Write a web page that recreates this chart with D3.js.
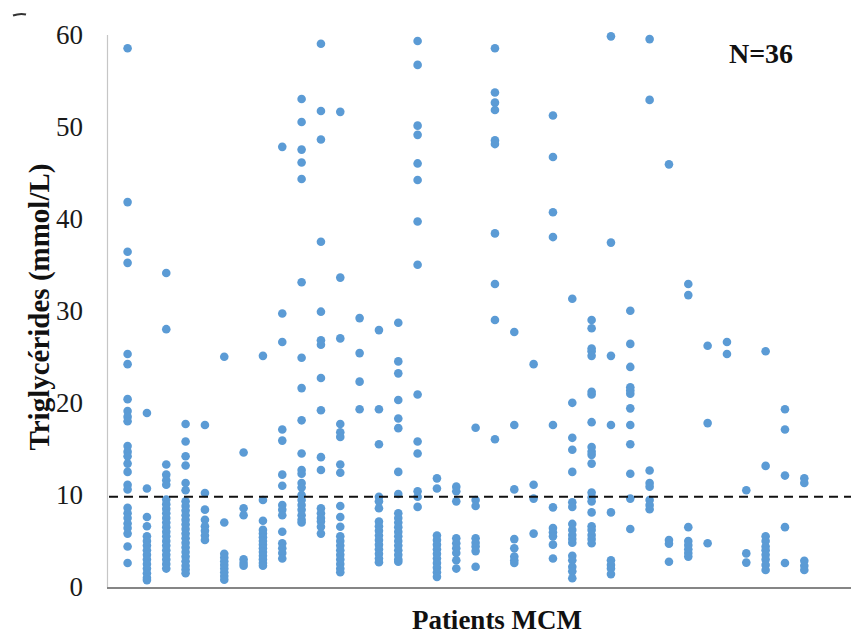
<!DOCTYPE html>
<html>
<head>
<meta charset="utf-8">
<script src="https://cdn.jsdelivr.net/npm/d3@7"></script>
<style>
  body{margin:0;background:#fff;}
  svg{display:block;}
</style>
</head>
<body>
<svg id="chart"></svg>
<script>
// triglycerides per patient (mmol/L)
var patient01=[58.5,41.8,36.4,35.2,25.3,24.2,20.4,19.1,18.5,18.0,15.3,14.7,14.2,13.4,12.5,11.1,10.6,8.6,8.0,7.5,6.9,6.4,5.8,4.4,2.6]
var patient02=[18.9,10.7,7.6,6.6,5.5,5.0,4.5,4.0,3.5,3.0,2.5,2.0,1.5,1.0,0.75]
var patient03=[34.1,28.0,13.3,12.2,11.6,11.1,9.5,9.0,8.5,8.0,7.5,7.0,6.5,6.0,5.5,5.0,4.5,4.0,3.5,3.0,2.5,2.0]
var patient04=[17.7,15.8,14.2,13.2,11.3,10.5,9.3,8.8,8.3,7.8,7.3,6.8,6.3,5.8,5.3,4.8,4.3,3.8,3.3,2.8,2.3,1.9,1.5]
var patient05=[17.6,10.2,8.4,7.3,6.6,6.1,5.6,5.1]
var patient06=[25.0,7.0,3.6,3.2,2.8,2.4,2.0,1.6,1.2,0.8]
var patient07=[14.6,8.55,7.8,3.0,2.6,2.3]
var patient08=[25.1,9.45,7.2,6.2,5.8,5.4,5.0,4.6,4.2,3.8,3.4,3.0,2.6,2.3]
var patient09=[47.8,29.7,26.6,17.1,15.9,12.2,11.0,8.9,8.4,7.8,6.0,4.75,4.2,3.7,3.1]
var patient10=[53.0,50.5,47.5,46.1,44.3,33.1,24.9,21.6,18.1,14.5,12.7,12.3,11.3,10.8,10.0,9.45,8.9,8.4,7.8,7.3,7.0]
var patient11=[59.0,51.7,48.6,37.5,29.9,26.8,26.3,22.7,19.2,14.1,12.7,8.55,8.0,7.5,7.1,6.55,5.8]
var patient12=[51.6,33.6,27.0,17.7,16.8,16.3,13.3,12.4,8.8,7.6,6.55,5.5,5.0,4.5,4.0,3.5,3.0,2.5,2.0,1.6]
var patient13=[29.2,25.4,22.3,19.3]
var patient14=[27.9,19.3,15.5,9.8,9.3,8.55,7.1,6.6,6.1,5.6,5.1,4.6,4.1,3.6,3.1,2.7]
var patient15=[28.7,24.5,23.2,20.3,18.3,17.25,12.5,10.1,8.0,7.5,7.0,6.5,6.0,5.5,5.0,4.5,4.0,3.5,3.0,2.75]
var patient16=[59.3,56.7,50.1,49.1,46.0,44.2,39.7,35.0,20.9,15.8,14.5,10.4,9.8,8.7]
var patient17=[11.8,10.7,5.6,5.1,4.6,4.1,3.6,3.1,2.6,2.1,1.6,1.1]
var patient18=[10.9,10.4,9.3,5.3,4.75,4.2,3.7,2.9,2.0]
var patient19=[17.3,9.45,8.8,5.3,4.8,4.4,3.9,2.2]
var patient20=[58.5,53.7,52.6,51.8,48.5,48.1,38.4,32.9,29.0,16.05]
var patient21=[27.7,17.6,10.6,5.2,4.2,3.3,2.9,2.6]
var patient22=[24.2,11.1,9.6,5.8]
var patient23=[51.2,46.7,40.7,38.0,17.6,8.65,6.4,5.95,5.5,4.6,3.1]
var patient24=[31.3,20.0,16.2,14.9,12.5,9.2,8.7,6.85,6.2,5.65,5.2,4.8,3.4,2.9,2.2,1.7,0.95]
var patient25=[29.0,28.1,25.9,25.6,25.1,21.2,20.9,17.9,15.2,14.7,14.35,13.4,10.25,9.75,9.3,8.1,6.6,6.2,5.65,5.2,4.75]
var patient26=[59.8,37.4,25.1,17.6,8.1,2.9,2.4,2.0,1.4]
var patient27=[30.0,26.4,23.9,21.7,21.35,21.0,19.4,17.6,15.5,12.3,9.6,6.3]
var patient28=[59.5,52.9,12.65,11.3,10.9,9.45,8.9,8.45]
var patient29=[45.9,5.1,4.7,2.75]
var patient30=[32.9,31.7,6.5,5.0,4.55,4.1,3.7,3.3]
var patient31=[26.2,17.8,4.75]
var patient32=[26.6,25.3]
var patient33=[10.5,3.65,2.65]
var patient34=[25.6,13.15,5.5,5.0,4.4,4.0,3.5,3.0,2.4,1.85]
var patient35=[19.3,17.1,12.1,6.5,2.6]
var patient36=[11.8,11.3,2.85,2.3,1.85]

var series=[patient01,patient02,patient03,patient04,patient05,patient06,patient07,patient08,patient09,
  patient10,patient11,patient12,patient13,patient14,patient15,patient16,patient17,patient18,patient19,
  patient20,patient21,patient22,patient23,patient24,patient25,patient26,patient27,patient28,patient29,
  patient30,patient31,patient32,patient33,patient34,patient35,patient36]
var patients=d3.range(1,series.length+1)
var yTicks=[0,10,20,30,40,50,60]
var threshold=9.8
var nLabel="N=36"
var yTitle="Triglycérides (mmol/L)"
var xTitle="Patients MCM"

//size of screen
var screen={width:851,height:635}
var plot={left:107,right:851,top:34.5,bottom:587}

var svg=d3.select("#chart")
    .attr("width",screen.width)
    .attr("height",screen.height)

var xScale=d3.scalePoint()
    .domain(patients)
    .range([127.6,804.3])
var yScale=d3.scaleLinear()
    .domain([0,60])
    .range([plot.bottom,plot.top])

//y axis, labels only plus light line
var yAxis=svg.append("g")
    .attr("transform","translate("+plot.left+",0)")
    .call(d3.axisLeft(yScale).tickValues(yTicks).tickSize(0).tickPadding(24))
yAxis.select(".domain")
    .attr("stroke","#c6c6c6")
    .attr("stroke-width",1.2)
yAxis.selectAll("text")
    .attr("font-family","'Liberation Serif','Times New Roman',serif")
    .attr("font-size",27)
    .attr("fill","#1a1a1a")

//points
var flat=[]
series.forEach(function(vals,i){
    vals.forEach(function(v){flat.push({p:patients[i],v:v})})
})
svg.append("g")
    .selectAll("circle")
    .data(flat)
    .enter()
    .append("circle")
    .attr("cx",function(d){return xScale(d.p)})
    .attr("cy",function(d){return yScale(d.v)})
    .attr("r",4.3)
    .attr("fill","#5b9bd5")

//x axis line
svg.append("line")
    .attr("x1",plot.left).attr("x2",plot.right)
    .attr("y1",yScale(0)+1).attr("y2",yScale(0)+1)
    .attr("stroke","#858585")
    .attr("stroke-width",2.2)

//threshold line
svg.append("line")
    .attr("x1",plot.left+2).attr("x2",plot.right)
    .attr("y1",yScale(threshold)).attr("y2",yScale(threshold))
    .attr("stroke","#111")
    .attr("stroke-width",2)
    .attr("stroke-dasharray","9,6")

//texts
svg.append("text")
    .attr("x",761).attr("y",63)
    .attr("text-anchor","middle")
    .attr("font-family","'Liberation Serif','Times New Roman',serif")
    .attr("font-weight","bold")
    .attr("font-size",28)
    .attr("fill","#111")
    .text(nLabel)

svg.append("text")
    .attr("transform","translate(49,307) rotate(-90)")
    .attr("text-anchor","middle")
    .attr("font-family","'Liberation Serif','Times New Roman',serif")
    .attr("font-weight","bold")
    .attr("font-size",29)
    .attr("fill","#111")
    .text(yTitle)

svg.append("text")
    .attr("x",497).attr("y",629)
    .attr("text-anchor","middle")
    .attr("font-family","'Liberation Serif','Times New Roman',serif")
    .attr("font-weight","bold")
    .attr("font-size",27)
    .attr("fill","#111")
    .text(xTitle)

//little leftover stroke at the top left corner
svg.append("path")
    .attr("d","M13,15.5 Q20,13 26,14.5")
    .attr("fill","none")
    .attr("stroke","#333")
    .attr("stroke-width",2)
</script>
</body>
</html>
